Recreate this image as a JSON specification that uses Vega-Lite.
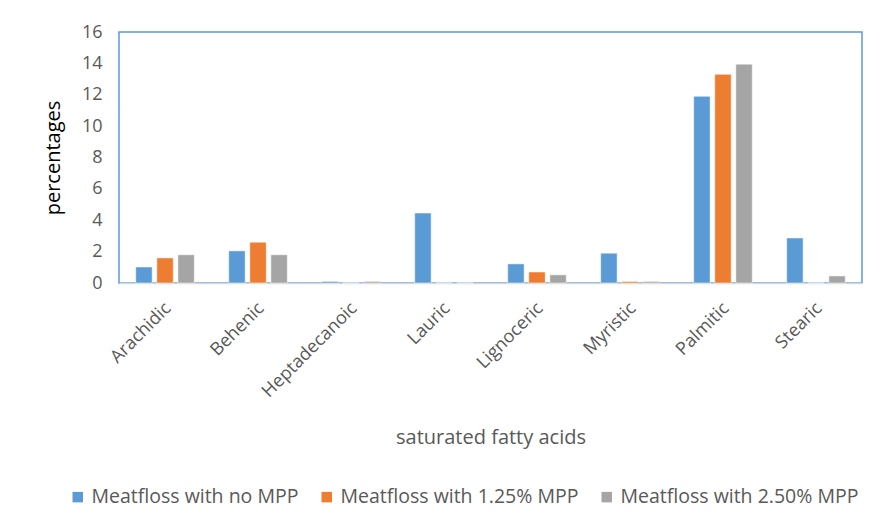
{
  "$schema": "https://vega.github.io/schema/vega-lite/v6.json",
  "autosize": {"type": "none"},
  "width": 743,
  "height": 251,
  "padding": {"left": 119, "top": 32, "right": 21, "bottom": 246},
  "background": "white",
  "data": {
    "values": [
      {"acid": "Arachidic", "series": "Meatfloss with no MPP", "value": 1.02},
      {"acid": "Arachidic", "series": "Meatfloss with 1.25% MPP", "value": 1.6},
      {"acid": "Arachidic", "series": "Meatfloss with 2.50% MPP", "value": 1.8},
      {"acid": "Behenic", "series": "Meatfloss with no MPP", "value": 2.05},
      {"acid": "Behenic", "series": "Meatfloss with 1.25% MPP", "value": 2.6},
      {"acid": "Behenic", "series": "Meatfloss with 2.50% MPP", "value": 1.8},
      {"acid": "Heptadecanoic", "series": "Meatfloss with no MPP", "value": 0.1},
      {"acid": "Heptadecanoic", "series": "Meatfloss with 1.25% MPP", "value": 0},
      {"acid": "Heptadecanoic", "series": "Meatfloss with 2.50% MPP", "value": 0.1},
      {"acid": "Lauric", "series": "Meatfloss with no MPP", "value": 4.46},
      {"acid": "Lauric", "series": "Meatfloss with 1.25% MPP", "value": 0},
      {"acid": "Lauric", "series": "Meatfloss with 2.50% MPP", "value": 0},
      {"acid": "Lignoceric", "series": "Meatfloss with no MPP", "value": 1.22},
      {"acid": "Lignoceric", "series": "Meatfloss with 1.25% MPP", "value": 0.7},
      {"acid": "Lignoceric", "series": "Meatfloss with 2.50% MPP", "value": 0.52},
      {"acid": "Myristic", "series": "Meatfloss with no MPP", "value": 1.9},
      {"acid": "Myristic", "series": "Meatfloss with 1.25% MPP", "value": 0.1},
      {"acid": "Myristic", "series": "Meatfloss with 2.50% MPP", "value": 0.1},
      {"acid": "Palmitic", "series": "Meatfloss with no MPP", "value": 11.9},
      {"acid": "Palmitic", "series": "Meatfloss with 1.25% MPP", "value": 13.3},
      {"acid": "Palmitic", "series": "Meatfloss with 2.50% MPP", "value": 13.95},
      {"acid": "Stearic", "series": "Meatfloss with no MPP", "value": 2.87},
      {"acid": "Stearic", "series": "Meatfloss with 1.25% MPP", "value": 0},
      {"acid": "Stearic", "series": "Meatfloss with 2.50% MPP", "value": 0.45}
    ]
  },
  "mark": {"type": "bar", "stroke": "white", "strokeWidth": 0.5},
  "encoding": {
    "x": {
      "field": "acid",
      "type": "nominal",
      "sort": null,
      "scale": {"paddingInner": 0.37, "paddingOuter": 0.18},
      "axis": {
        "title": "saturated fatty acids",
        "titleFont": "Open Sans",
        "titleFontSize": 20,
        "titleFontWeight": "normal",
        "titleColor": "#595959",
        "titlePadding": 27,
        "labelAngle": -45,
        "labelFont": "Open Sans",
        "labelFontSize": 18,
        "labelColor": "#595959",
        "labelPadding": 16,
        "labelOffset": -3,
        "ticks": false,
        "domainColor": "#d9d9d9",
        "domainWidth": 1.5
      }
    },
    "xOffset": {
      "field": "series",
      "type": "nominal",
      "sort": ["Meatfloss with no MPP", "Meatfloss with 1.25% MPP", "Meatfloss with 2.50% MPP"],
      "scale": {"paddingInner": 0.22}
    },
    "y": {
      "field": "value",
      "type": "quantitative",
      "scale": {"domain": [0, 16]},
      "axis": {
        "title": "percentages",
        "titleFont": "Open Sans",
        "titleFontSize": 20,
        "titleFontWeight": "normal",
        "titleColor": "#000000",
        "titlePadding": 18,
        "labelFont": "Open Sans",
        "labelFontSize": 18,
        "labelColor": "#595959",
        "labelPadding": 17,
        "labelOverlap": false,
        "ticks": false,
        "domain": false,
        "grid": false,
        "values": [0, 2, 4, 6, 8, 10, 12, 14, 16]
      }
    },
    "color": {
      "field": "series",
      "type": "nominal",
      "sort": ["Meatfloss with no MPP", "Meatfloss with 1.25% MPP", "Meatfloss with 2.50% MPP"],
      "scale": {"range": ["#5b9bd5", "#ed7d31", "#a5a5a5"]},
      "legend": {
        "orient": "none",
        "legendX": -51,
        "legendY": 455,
        "direction": "horizontal",
        "title": null,
        "symbolType": "square",
        "symbolSize": 110,
        "symbolStrokeWidth": 0,
        "labelFont": "Open Sans",
        "labelFontSize": 19.5,
        "labelColor": "#595959",
        "labelLimit": 400,
        "columnPadding": 18
      }
    }
  },
  "config": {
    "view": {"stroke": "#5b9bd5", "strokeWidth": 1.5}
  }
}
